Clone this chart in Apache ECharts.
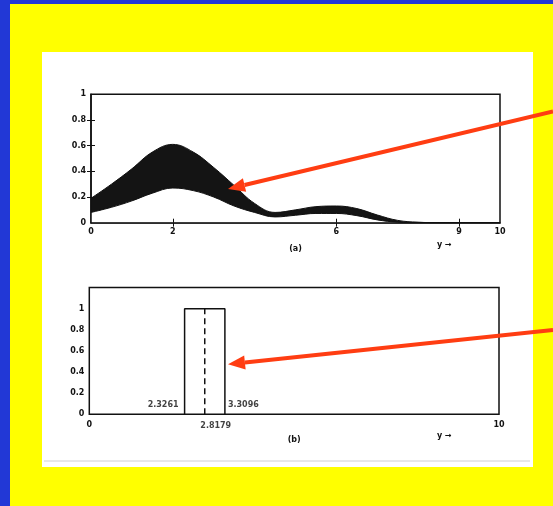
<!DOCTYPE html>
<html><head><meta charset="utf-8">
<script src="https://cdn.jsdelivr.net/npm/echarts@6/dist/echarts.min.js"></script>
<style>
html,body{margin:0;padding:0;width:553px;height:506px;overflow:hidden;background:#ffff00;}
#blueL{position:absolute;left:0;top:0;width:10px;height:506px;background:#2238d6;}
#blueT{position:absolute;left:0;top:0;width:553px;height:4px;background:#2238d6;}
#panel{position:absolute;left:42px;top:52px;width:491px;height:415px;background:#fff;}
#c{position:absolute;left:0;top:0;width:553px;height:506px;}
</style></head><body>
<div id="blueL"></div><div id="blueT"></div><div id="panel"></div>
<div id="c"></div>
<script>
// ---- data: panel (a) band ----
const xsA    = [0, 0.5, 1, 1.5, 2, 2.5, 3, 3.5, 4, 4.5, 5, 5.5, 6, 6.5, 7, 7.5, 8, 8.5, 9, 9.5, 10];
const upperA = [0.19, 0.30, 0.42, 0.55, 0.61, 0.55, 0.43, 0.29, 0.15, 0.08, 0.10, 0.125, 0.13, 0.11, 0.06, 0.018, 0.004, 0, 0, 0, 0];
const lowerA = [0.08, 0.12, 0.17, 0.23, 0.27, 0.25, 0.20, 0.13, 0.08, 0.045, 0.058, 0.072, 0.072, 0.055, 0.022, 0.004, 0, 0, 0, 0, 0];
const xLabelsA = [0, 2, 6, 9, 10];
const xTicksA  = [2, 6, 9];
const yLabels  = [0, 0.2, 0.4, 0.6, 0.8, 1];
const yTicksRightA = [0.2, 0.4, 0.6, 0.8];
// ---- data: panel (b) interval ----
const rectLeft = 2.3261, rectRight = 3.3096, rectMid = 2.8179, rectHeight = 1;
const xLabelsB = [0, 10];

const font = {fontFamily: 'DejaVu Sans', fontWeight: 'bold', fontSize: 8, color: '#111'};
const fmt = v => String(Math.round(v * 10) / 10);
const tickIn = vals => ({show: true, inside: true, length: 4, customValues: vals, lineStyle: {color: '#111', width: 1}});
const axLine = {show: true, lineStyle: {color: '#111', width: 1.5}};

function arrow(tip, tail, width, headL, headW, color) {
  const dx = tail[0] - tip[0], dy = tail[1] - tip[1];
  const len = Math.sqrt(dx * dx + dy * dy);
  const ux = dx / len, uy = dy / len, px = -uy, py = ux;
  const bx = tip[0] + ux * headL, by = tip[1] + uy * headL;
  return [
    {type: 'line', z: 100, shape: {x1: bx, y1: by, x2: tail[0], y2: tail[1]}, style: {stroke: color, lineWidth: width}},
    {type: 'polygon', z: 100, shape: {points: [tip, [bx + px * headW, by + py * headW], [bx - px * headW, by - py * headW]]}, style: {fill: color}}
  ];
}
const red = '#ff3d12';

const chart = echarts.init(document.getElementById('c'));
chart.setOption({
  animation: false,
  backgroundColor: 'transparent',
  grid: [
    {left: 91, top: 94.3, width: 409, height: 128.4, show: true, borderColor: '#111', borderWidth: 1.5, backgroundColor: 'transparent'},
    {left: 89.3, top: 287.5, width: 409.7, height: 126.8, show: true, borderColor: '#111', borderWidth: 1.5, backgroundColor: 'transparent'}
  ],
  xAxis: [
    {gridIndex: 0, type: 'value', min: 0, max: 10, position: 'bottom', z: 5,
     axisLine: axLine, splitLine: {show: false},
     axisTick: tickIn(xTicksA),
     axisLabel: Object.assign({customValues: xLabelsA, margin: 5, formatter: v => String(v)}, font),
     name: '(a)', nameLocation: 'middle', nameGap: 22, nameTextStyle: font},
    {gridIndex: 0, type: 'value', min: 0, max: 10, position: 'top',
     axisLine: {show: false}, splitLine: {show: false},
     axisTick: tickIn(xTicksA), axisLabel: {show: false}},
    {gridIndex: 1, type: 'value', min: 0, max: 10, position: 'bottom',
     axisLine: {show: false}, splitLine: {show: false}, axisTick: {show: false},
     axisLabel: Object.assign({customValues: xLabelsB, margin: 6.5, formatter: v => String(v)}, font),
     name: '(b)', nameLocation: 'middle', nameGap: 21.5, nameTextStyle: font}
  ],
  yAxis: [
    {gridIndex: 0, type: 'value', min: 0, max: 1, position: 'left', z: 5,
     axisLine: axLine, splitLine: {show: false},
     axisTick: tickIn(yTicksRightA),
     axisLabel: Object.assign({customValues: yLabels, margin: 5, formatter: fmt}, font)},
    {gridIndex: 0, type: 'value', min: 0, max: 1, position: 'right',
     axisLine: {show: false}, splitLine: {show: false},
     axisTick: tickIn(yTicksRightA), axisLabel: {show: false}},
    {gridIndex: 1, type: 'value', min: 0, max: 1.2, position: 'left',
     axisLine: {show: false}, splitLine: {show: false}, axisTick: {show: false},
     axisLabel: Object.assign({customValues: yLabels, margin: 5, formatter: fmt}, font)}
  ],
  series: [
    {type: 'line', xAxisIndex: 0, yAxisIndex: 0, smooth: 0.4, symbol: 'none', z: 2,
     data: xsA.map((x, i) => [x, upperA[i]]), lineStyle: {color: '#111', width: 1},
     areaStyle: {color: '#141414', opacity: 1}},
    {type: 'line', xAxisIndex: 0, yAxisIndex: 0, smooth: 0.4, symbol: 'none', z: 3,
     data: xsA.map((x, i) => [x, lowerA[i]]), lineStyle: {color: '#111', width: 1},
     areaStyle: {color: '#ffffff', opacity: 1}},
    {type: 'line', xAxisIndex: 2, yAxisIndex: 2, symbol: 'none',
     data: [[rectLeft, 0], [rectLeft, rectHeight], [rectRight, rectHeight], [rectRight, 0]],
     lineStyle: {color: '#111', width: 1.5}},
    {type: 'line', xAxisIndex: 2, yAxisIndex: 2, symbol: 'none',
     data: [[rectMid, 0], [rectMid, rectHeight]],
     lineStyle: {color: '#111', width: 1.5, type: [6, 4]}},
    {type: 'scatter', xAxisIndex: 2, yAxisIndex: 2, symbolSize: 0.1, itemStyle: {color: 'transparent'},
     data: [
       {value: [rectLeft, 0], label: Object.assign({show: true, position: 'left', distance: 6, offset: [0, -9], formatter: String(rectLeft)}, font)},
       {value: [rectRight, 0], label: Object.assign({show: true, position: 'right', distance: 3, offset: [0, -9], formatter: String(rectRight)}, font)},
       {value: [rectMid, 0], label: Object.assign({show: true, position: 'bottom', distance: 8, offset: [11, 0], formatter: String(rectMid)}, font)}
     ]}
  ],
  graphic: [
    {type: 'text', left: 437, top: 241, style: {text: 'y \u2192', fill: '#111', font: 'bold 8px "DejaVu Sans"'}},
    {type: 'text', left: 437, top: 432, style: {text: 'y \u2192', fill: '#111', font: 'bold 8px "DejaVu Sans"'}},
    {type: 'line', shape: {x1: 44, y1: 461, x2: 530, y2: 461}, style: {stroke: '#d0d0d0', lineWidth: 1}},
    ...arrow([228, 189], [553, 111.5], 4, 17, 7, red),
    ...arrow([228, 364.3], [553, 330], 4, 17, 7, red)
  ]
});
</script>
</body></html>
